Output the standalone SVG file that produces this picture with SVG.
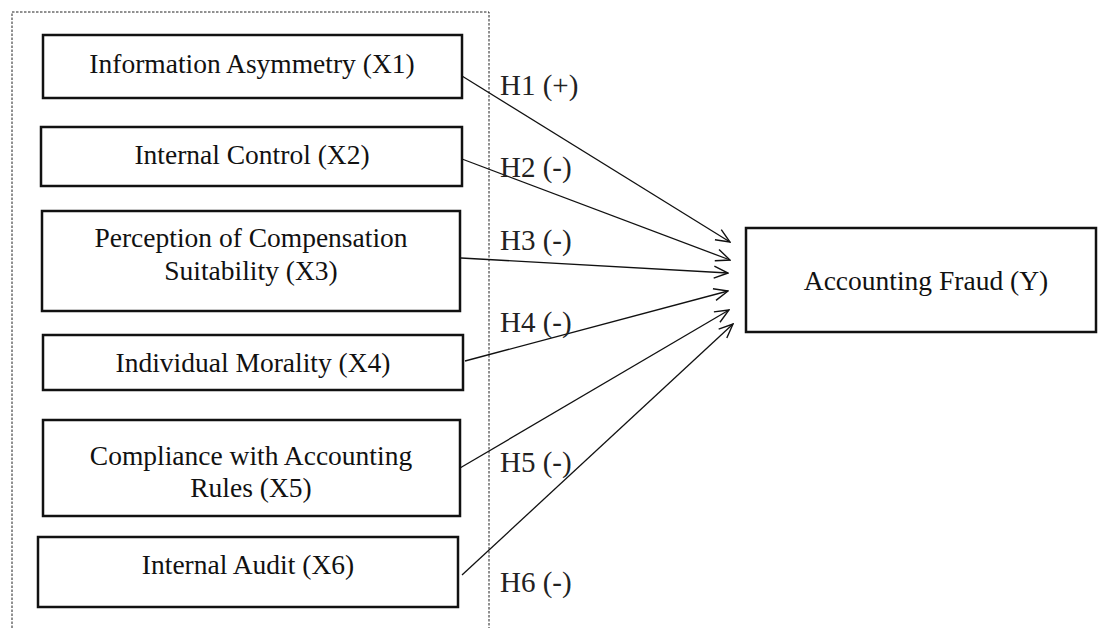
<svg xmlns="http://www.w3.org/2000/svg" width="1098" height="628" viewBox="0 0 1098 628">
  <style>
    .box { fill: #fff; stroke: #111; stroke-width: 2.5; }
    .frame { fill: none; stroke: #222; stroke-width: 1; stroke-dasharray: 2.5 1.5; }
    .lbl { font-family: "Liberation Serif", "Times New Roman", serif; font-size: 27.5px; fill: #111; text-anchor: middle; }
    .hyp { font-family: "Liberation Serif", "Times New Roman", serif; font-size: 29px; fill: #222; }
    .link { fill: none; stroke: #111; stroke-width: 1.3; marker-end: url(#open); }
  </style>
  <defs>
    <marker id="open" viewBox="0 0 16 14" refX="15" refY="7" markerWidth="16" markerHeight="14" markerUnits="userSpaceOnUse" orient="auto">
      <path d="M1,1 L15,7 L1,13" fill="none" stroke="#111" stroke-width="1.4"/>
    </marker>
  </defs>
  <rect width="1098" height="628" fill="#fff"/>

  <!-- dashed frame around the independent variables -->
  <path class="frame" d="M12,640 L12,12 L489,12 L489,640"/>

  <g id="x1">
    <rect class="box" x="43" y="35" width="419" height="63"/>
    <text class="lbl" x="252" y="73">Information Asymmetry (X1)</text>
  </g>
  <g id="x2">
    <rect class="box" x="41" y="127" width="421" height="59"/>
    <text class="lbl" x="252" y="164">Internal Control (X2)</text>
  </g>
  <g id="x3">
    <rect class="box" x="42" y="211" width="418" height="100"/>
    <text class="lbl" x="251" y="247">Perception of Compensation</text>
    <text class="lbl" x="251" y="280">Suitability (X3)</text>
  </g>
  <g id="x4">
    <rect class="box" x="43" y="335" width="420" height="55"/>
    <text class="lbl" x="253" y="372">Individual Morality (X4)</text>
  </g>
  <g id="x5">
    <rect class="box" x="43" y="420" width="417" height="96"/>
    <text class="lbl" x="251" y="465">Compliance with Accounting</text>
    <text class="lbl" x="251" y="497">Rules (X5)</text>
  </g>
  <g id="x6">
    <rect class="box" x="38" y="537" width="420" height="70"/>
    <text class="lbl" x="248" y="574">Internal Audit (X6)</text>
  </g>
  <g id="y">
    <rect class="box" x="746" y="228" width="350" height="104"/>
    <text class="lbl" x="926" y="290">Accounting Fraud (Y)</text>
  </g>

  <g id="connectors">
    <line class="link" x1="462" y1="76" x2="730" y2="242"/>
    <line class="link" x1="462" y1="159" x2="730" y2="260"/>
    <line class="link" x1="461" y1="258" x2="728" y2="273"/>
    <line class="link" x1="465" y1="361" x2="728" y2="291"/>
    <line class="link" x1="460" y1="468" x2="729" y2="310"/>
    <line class="link" x1="462" y1="575" x2="733" y2="324"/>
  </g>

  <g id="hypotheses">
    <text class="hyp" x="500" y="95">H1 (+)</text>
    <text class="hyp" x="500" y="177">H2 (-)</text>
    <text class="hyp" x="500" y="250">H3 (-)</text>
    <text class="hyp" x="500" y="332">H4 (-)</text>
    <text class="hyp" x="500" y="472">H5 (-)</text>
    <text class="hyp" x="500" y="592">H6 (-)</text>
  </g>
</svg>
